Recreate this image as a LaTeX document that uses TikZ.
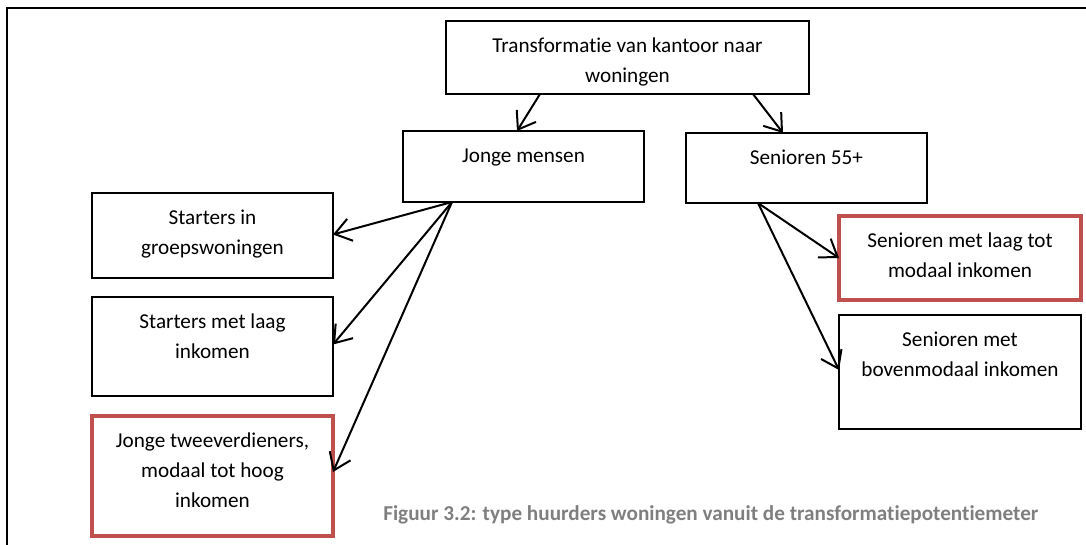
\documentclass[tikz,border=0pt]{standalone}
\usepackage{fontspec}
\setmainfont{Carlito}[Ligatures=NoCommon]
\usetikzlibrary{arrows.meta}

\definecolor{accentred}{HTML}{C0504D}
\definecolor{captiongray}{HTML}{7F7F7F}

% one unit of the drawing grid
\newdimen\pxl \pxl=0.75pt

% box content: fixed-size paragraph, text set from the top
\newcommand\boxtext[3]{%
  \parbox[c][#2\pxl][t]{#1\pxl}{\centering\rule{0pt}{31\pxl}#3\par}}

\tikzset{
  box/.style={draw=black, line width=1.4pt, inner sep=0pt, outer sep=0pt,
    anchor=north west, font=\fontsize{15.9pt}{22.5pt}\selectfont},
  redbox/.style={box, draw=accentred, line width=3pt},
  arr/.style={line width=1.5pt, -{Straight Barb[length=12pt,width=17pt]}},
  caption/.style={anchor=base west, inner sep=0pt, text=captiongray,
    font=\fontsize{15.9pt}{18pt}\selectfont\bfseries}
}

\begin{document}
\begin{tikzpicture}[x=0.75pt, y=-0.75pt]
  \useasboundingbox (0,0) rectangle (1086,544);
  \clip (0,0) rectangle (1086,544);

  % page frame, running past the right and bottom edges
  \draw[line width=1.5pt] (7,580) -- (7,8) -- (1120,8);

  % boxes
  \node[box] (top) at (446,21) {\boxtext{363}{73}{Transformatie van kantoor naar\\woningen}};
  \node[box] (jm)  at (403,131) {\boxtext{241}{71}{Jonge mensen}};
  \node[box] (sen) at (686,133) {\boxtext{241}{70}{Senioren 55+}};

  \node[box]    (s1) at (92,193) {\boxtext{241}{85}{Starters in\\groepswoningen}};
  \node[box]    (s2) at (92,297) {\boxtext{241}{99}{Starters met laag\\inkomen}};
  \node[redbox] (s3) at (92,416) {\boxtext{241}{120}{Jonge tweeverdieners,\\modaal tot hoog\\inkomen}};

  \node[redbox] (r1) at (839,216) {\boxtext{242}{84}{Senioren met laag tot\\modaal inkomen}};
  \node[box]    (r2) at (839,315) {\boxtext{242}{114}{Senioren met\\bovenmodaal inkomen}};

  % connectors
  \draw[arr] ([xshift=94\pxl]top.south west) -- ([xshift=114\pxl]jm.north west);
  \draw[arr] ([xshift=307\pxl]top.south west) -- ([xshift=97\pxl]sen.north west);

  \draw[arr] ([xshift=49\pxl]jm.south west) -- ([yshift=1\pxl]s1.east);
  \draw[arr] ([xshift=49\pxl]jm.south west) -- ([yshift=2\pxl]s2.east);
  \draw[arr] ([xshift=49\pxl]jm.south west) -- ([yshift=4\pxl]s3.east);

  \draw[arr] ([xshift=72\pxl]sen.south west) -- (r1.west);
  \draw[arr] ([xshift=72\pxl]sen.south west) -- ([yshift=2\pxl]r2.west);

  % caption
  \node[caption] (cap) at (383,520) {Figuur 3.2: type huurders woningen vanuit de transformatiepotentiemeter};
\end{tikzpicture}
\end{document}
